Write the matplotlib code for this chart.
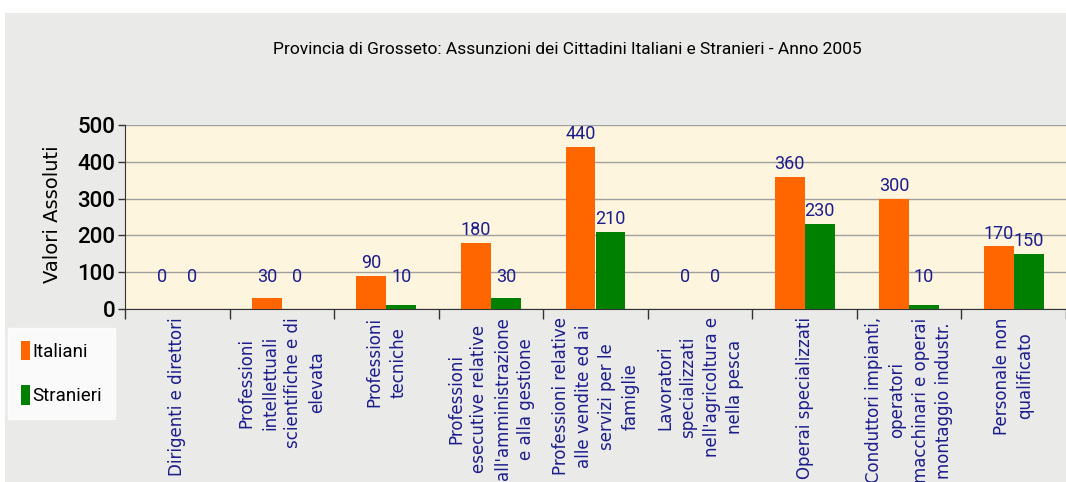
import matplotlib
matplotlib.use("Agg")
import matplotlib.pyplot as plt
from matplotlib.patches import Rectangle, Patch
import numpy as np

categories = [
    "Dirigenti e direttori",
    "Professioni\nintellettuali\nscientifiche e di\nelevata",
    "Professioni\ntecniche",
    "Professioni\nesecutive relative\nall'amministrazione\ne alla gestione",
    "Professioni relative\nalle vendite ed ai\nservizi per le\nfamiglie",
    "Lavoratori\nspecializzati\nnell'agricoltura e\nnella pesca",
    "Operai specializzati",
    "Conduttori impianti,\noperatori\nmacchinari e operai\nmontaggio industr.",
    "Personale non\nqualificato",
]
italiani = [0, 30, 90, 180, 440, 0, 360, 300, 170]
stranieri = [0, 0, 10, 30, 210, 0, 230, 10, 150]
series_names = ["Italiani", "Stranieri"]
yticks = [0, 100, 200, 300, 400, 500]
title = "Provincia di Grosseto: Assunzioni dei Cittadini Italiani e Stranieri - Anno 2005"
ylabel = "Valori Assoluti"

narrow = ["Roboto", "DejaVu Sans"]
ORANGE = "#FF6600"
GREEN = "#008000"
NAVY = "#1C1C8C"

fig = plt.figure(figsize=(10.66, 4.82), dpi=100)
fig.patch.set_facecolor("white")
fig.patches.append(Rectangle((5/1066, 0), 1, 1 - 13/482, transform=fig.transFigure,
                             facecolor="#EAEAE8", edgecolor="none", zorder=-10))

ax = fig.add_axes([125/1066, 1 - 309/482, 1 - 125/1066, (309 - 125)/482])
ax.set_facecolor("#FDF5DE")

x = np.arange(len(categories))
w = 0.286
ax.bar(x - w/2, italiani, w, color=ORANGE, zorder=3)
ax.bar(x + w/2, stranieri, w, color=GREEN, zorder=3)

for xi, v in zip(x - w/2, italiani):
    ax.text(xi, max(v + 35, 87), str(v), ha="center", va="center",
            color=NAVY, fontsize=13, family=narrow, zorder=4)
for xi, v in zip(x + w/2, stranieri):
    ax.text(xi, max(v + 35, 87), str(v), ha="center", va="center",
            color=NAVY, fontsize=13, family=narrow, zorder=4)

ax.set_xlim(-0.5, len(categories) - 0.5)
ax.set_ylim(0, 500)
ax.set_yticks(yticks)
ax.set_yticklabels([str(t) for t in yticks], family=narrow, fontsize=16,
                   color="black", fontweight="medium")
ax.yaxis.grid(True, color="#A0A0A0", lw=1, zorder=0)
ax.set_axisbelow(True)
for s in ["top", "right"]:
    ax.spines[s].set_visible(False)
ax.spines["left"].set_color("#333333")
ax.spines["bottom"].set_color("#333333")
ax.tick_params(axis="y", length=5, width=1, pad=2, color="#333333")

ax.set_xticks(np.arange(len(categories) + 1) - 0.5)
ax.set_xticklabels([])
ax.tick_params(axis="x", length=7, width=1, color="#333333")

for xi, lab in zip(x, categories):
    ax.text(xi, -0.045, lab, transform=ax.get_xaxis_transform(), rotation=90,
            ha="center", va="top", multialignment="center", color=NAVY,
            fontsize=12, family=["DejaVu Sans"], linespacing=1.38)

fig.text(567/1066, 1 - 50/482, title, ha="center", va="center", fontsize=12.5,
         family=narrow, color="black")
fig.text(52/1066, 1 - 214/482, ylabel, rotation=90, ha="center", va="center",
         fontsize=14, color="black")

handles = [Patch(facecolor=ORANGE), Patch(facecolor=GREEN)]
leg = fig.legend(handles, series_names, loc="upper left",
                 bbox_to_anchor=(8/1066, 1 - 328/482), frameon=True,
                 prop={"family": narrow, "size": 13.5}, handlelength=0.45,
                 handleheight=1.2, handletextpad=0.15, labelspacing=1.3,
                 borderpad=0.7, borderaxespad=0, fancybox=False, edgecolor="white")
leg.get_frame().set_facecolor("white")

fig.savefig("out.png", dpi=100, facecolor=fig.get_facecolor())
